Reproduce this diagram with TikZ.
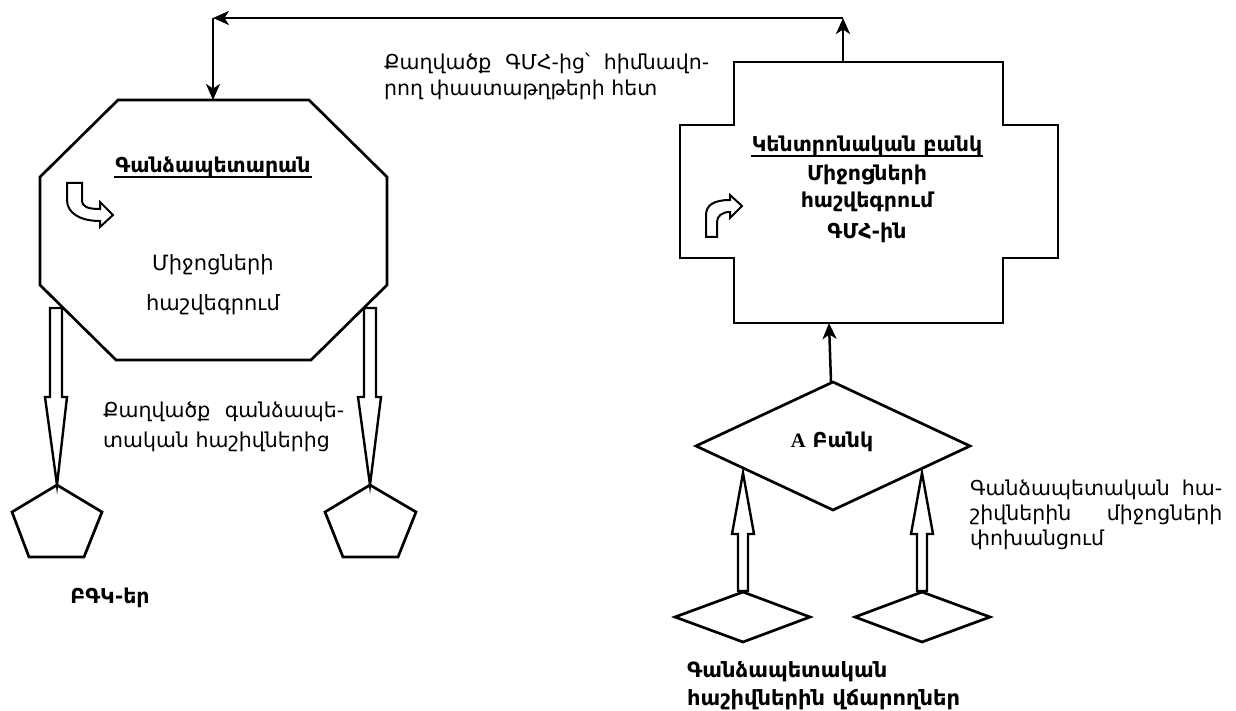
\documentclass[tikz,border=0pt]{standalone}
\usepackage{fontspec}
\setmainfont{DejaVu Sans}
\newfontfamily\latinserif{Liberation Serif}
\usetikzlibrary{arrows.meta}
\begin{document}
\begin{tikzpicture}[x=1pt,y=-1pt,line width=2.4pt,line join=miter,
  shapeline/.style={draw=black,line width=2.7pt},
  blockarrow/.style={draw=black,line width=2.4pt,fill=white},
  link/.style={draw=black,line width=2.5pt,-{Stealth[length=16pt,width=14pt,inset=4.5pt]}},
  underbar/.style={draw=black,line width=1.8pt},
  plain/.style={inner sep=0pt,font=\fontsize{20.5}{26}\selectfont},
  strong/.style={inner sep=0pt,font=\fontsize{20.5}{26}\selectfont\bfseries},
  big/.style={inner sep=0pt,font=\fontsize{21}{26}\selectfont}]
\useasboundingbox (0,0) rectangle (1236,711);

% Treasury octagon
\draw[shapeline] (40,177) -- (118,100) -- (309,100) -- (387,177) -- (387,285)
  -- (311,360) -- (116,360) -- (40,285) -- cycle;
\coordinate (treasury) at (213,100);
\node[strong] (treasuryTitle) at (213,167) {Գանձապետարան};
\draw[underbar] ([yshift=-4pt]treasuryTitle.base west) -- ([yshift=-4pt]treasuryTitle.base east);
\node[big] (treasuryL1) at (213,265) {Միջոցների};
\node[big] (treasuryL2) at (213,305) {հաշվեգրում};
% curved hollow arrow inside the octagon
\draw[line width=2pt] (67,183) -- (82,183) -- (82,200) .. controls (82,207) and (88,209) .. (100,209)
  -- (100,202) -- (113,215) -- (100,227) -- (100,221) .. controls (80,221) and (67,213) .. (67,200) -- cycle;

% Central bank cross
\draw[shapeline] (734,62) -- (1003,62) -- (1003,125) -- (1058,125) -- (1058,258) -- (1003,258)
  -- (1003,323) -- (734,323) -- (734,258) -- (680,258) -- (680,125) -- (734,125) -- cycle;
\coordinate (cbTop) at (843,62);
\coordinate (cbBottom) at (829,323);
\node[strong] (cbTitle) at (867,146) {Կենտրոնական բանկ};
\draw[underbar] ([yshift=-4pt]cbTitle.base west) -- ([yshift=-4pt]cbTitle.base east);
\node[strong] (cbL1) at (867,175) {Միջոցների};
\node[strong] (cbL2) at (867,202) {հաշվեգրում};
\node[strong] (cbL3) at (867,233) {ԳՄՀ-ին};
% curved hollow arrow inside the cross
\draw[line width=2pt] (706,237) -- (706,215) .. controls (706,205) and (714,200) .. (730,200)
  -- (730,195) -- (742,206) -- (730,218) -- (730,212) .. controls (722,212) and (717,216) .. (717,222)
  -- (717,237) -- cycle;

% Return path from the central bank to the treasury
\coordinate (cornerR) at (843,18);
\coordinate (cornerL) at (213,18);
\draw[link] (cbTop) -- (cornerR);
\draw[link] (cornerR) -- (cornerL);
\draw[link] (cornerL) -- (treasury);
\node[plain,anchor=west,align=left] (statementCB) at (383,76)
  {\hbox to 325pt{Քաղվածք\hfill ԳՄՀ-ից՝\hfill հիմնավո-}\\րող փաստաթղթերի հետ};

% Bank A
\draw[shapeline] (833,382) -- (970,446) -- (833,510) -- (696,446) -- cycle;
\coordinate (bankA) at (831,382);
\node[strong] (bankLabel) at (832,442) {{\latinserif A} Բանկ};
\draw[link] (bankA) -- (cbBottom);

% Budget organisations (pentagons) and block arrows
\draw[shapeline] (57,485) -- (102,512) -- (84,557) -- (29,557) -- (12,512) -- cycle;
\draw[shapeline] (370,485) -- (416,512) -- (398,557) -- (343,557) -- (325,512) -- cycle;
\draw[blockarrow] (50,308) -- (62,308) -- (62,397) -- (67,397) -- (57,485) -- (45,397) -- (50,397) -- cycle;
\draw[blockarrow] (364,308) -- (376,308) -- (376,397) -- (381,397) -- (370,485) -- (358,397) -- (364,397) -- cycle;
\node[plain,anchor=west,align=left,font=\fontsize{20.5}{30}\selectfont] (statementT) at (102,427)
  {\hbox to 241pt{Քաղվածք\hfill գանձապե-}\\տական հաշիվներից};
\node[strong] (bgk) at (110,598) {ԲԳԿ-եր};

% Payers (small diamonds) and block arrows up to Bank A
\draw[shapeline] (743,592) -- (810,617) -- (743,642) -- (675,617) -- cycle;
\draw[shapeline] (922,592) -- (990,617) -- (922,642) -- (855,617) -- cycle;
\draw[blockarrow] (738,591) -- (738,534) -- (732,534) -- (743,473) -- (754,534) -- (748,534) -- (748,591) -- cycle;
\draw[blockarrow] (917,591) -- (917,534) -- (911,534) -- (922,473) -- (933,534) -- (927,534) -- (927,591) -- cycle;
\node[plain,anchor=west,align=left,font=\fontsize{20.5}{25}\selectfont] (transfer) at (969,515)
  {\hbox to 252pt{Գանձապետական\hfill հա-}\\\hbox to 252pt{շիվներին\hfill միջոցների}\\փոխանցում};
\node[strong,anchor=west,align=left,font=\fontsize{21}{28}\selectfont\bfseries] (payers) at (686,686)
  {Գանձապետական\\հաշիվներին վճարողներ};
\end{tikzpicture}
\end{document}
